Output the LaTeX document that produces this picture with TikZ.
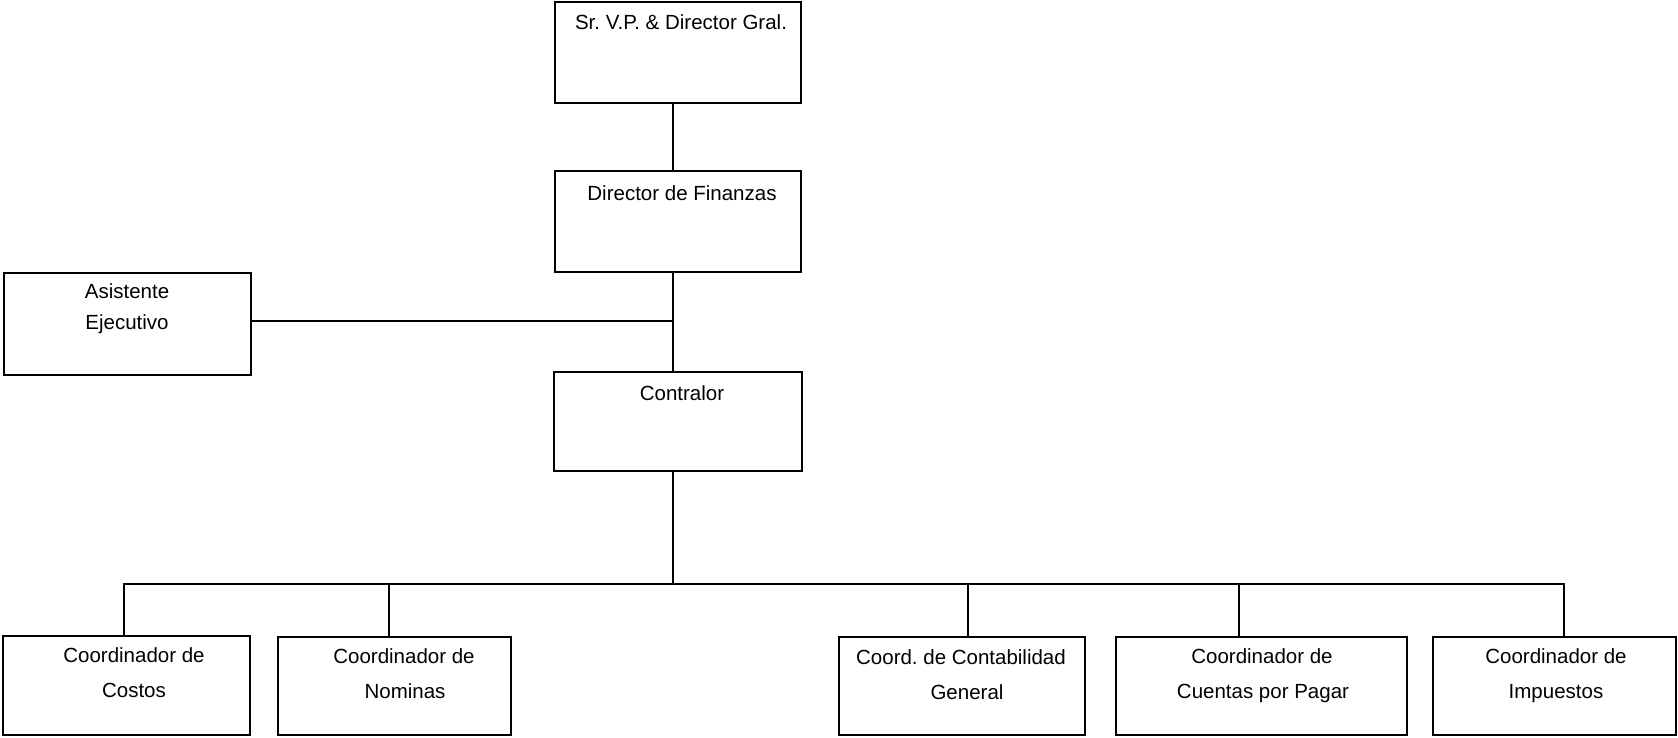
\documentclass[tikz,border=0pt]{standalone}
\usepackage{fontspec}
\setmainfont{Liberation Sans}
\frenchspacing
\begin{document}
\begin{tikzpicture}[x=0.5pt,y=-0.5pt,
  orgbox/.style n args={2}{draw=black, line width=1.35pt, inner sep=0pt, outer sep=0pt,
    minimum width=#1*0.5pt, minimum height=#2*0.5pt},
  link/.style={draw=black, line width=1.15pt},
  lbl/.style={anchor=base, inner sep=0pt, font=\fontsize{10.25}{12}\selectfont}]
\useasboundingbox (0,0) rectangle (1678,738);

% boxes
\node[orgbox={246}{101}] (gral) at (678,52.5) {};
\node[orgbox={246}{101}] (fin) at (678,221.5) {};
\node[orgbox={248}{99}] (cont) at (678,421.5) {};
\node[orgbox={247}{102}] (asis) at (127.5,324) {};
\node[orgbox={247}{99}] (costos) at (126.5,685.5) {};
\node[orgbox={233}{98}] (nom) at (394.5,686) {};
\node[orgbox={246}{98}] (contab) at (962,686) {};
\node[orgbox={291}{98}] (ctas) at (1261.5,686) {};
\node[orgbox={243}{98}] (imp) at (1554.5,686) {};

% labels
\node[lbl] (gralt) at (681,30) {Sr. V.P. \& Director Gral.};
\node[lbl] (fint) at (682,200) {Director de Finanzas};
\node[lbl] (contt) at (682,400) {Contralor};
\node[lbl] (asist1) at (127,299) {Asistente};
\node[lbl] (asist2) at (127,329) {Ejecutivo};
\node[lbl] (costost1) at (134,662) {Coordinador de};
\node[lbl] (costost2) at (134,697) {Costos};
\node[lbl] (nomt1) at (404,663) {Coordinador de};
\node[lbl] (nomt2) at (405,698) {Nominas};
\node[lbl] (contabt1) at (961,664) {Coord. de Contabilidad};
\node[lbl] (contabt2) at (967,699) {General};
\node[lbl] (ctast1) at (1262,663) {Coordinador de};
\node[lbl] (ctast2) at (1263,698) {Cuentas por Pagar};
\node[lbl] (impt1) at (1556,663) {Coordinador de};
\node[lbl] (impt2) at (1556,698) {Impuestos};

% trunk and branch points
\coordinate (trunk) at (673,0);
\coordinate (side) at (673,321);
\coordinate (bus) at (673,584);
\coordinate (b1) at (124,584);
\coordinate (b2) at (389,584);
\coordinate (b3) at (968,584);
\coordinate (b4) at (1239,584);
\coordinate (b5) at (1564,584);

% connectors
\draw[link] (gral.south -| trunk) -- (fin.north -| trunk);
\draw[link] (fin.south -| trunk) -- (cont.north -| trunk);
\draw[link] (asis.east |- side) -- (side);
\draw[link] (cont.south -| trunk) -- (bus);
\draw[link, line cap=rect] (b1) -- (b5);
\draw[link] (b1) -- (b1 |- costos.north);
\draw[link] (b2) -- (b2 |- nom.north);
\draw[link] (b3) -- (b3 |- contab.north);
\draw[link] (b4) -- (b4 |- ctas.north);
\draw[link] (b5) -- (b5 |- imp.north);
\end{tikzpicture}
\end{document}
